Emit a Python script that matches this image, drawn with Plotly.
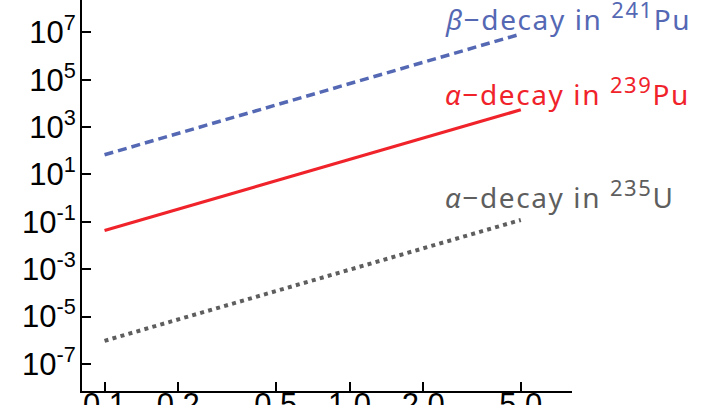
import plotly.graph_objects as go

# Data (log-log, rate vs. x)
x_vals = [0.1, 0.2, 0.5, 1.0, 2.0, 5.0]
beta_pu241 = [68, 540, 8500, 68000, 540000, 8.5e6]
alpha_pu239 = [0.043, 0.34, 5.4, 43, 340, 5400]
alpha_u235 = [9.5e-7, 7.6e-6, 1.2e-4, 9.5e-4, 7.6e-3, 0.12]

y_tickvals = [1e-7, 1e-5, 1e-3, 1e-1, 1e1, 1e3, 1e5, 1e7]
y_ticktext = ["10<sup>-7</sup>", "10<sup>-5</sup>", "10<sup>-3</sup>", "10<sup>-1</sup>",
              "10<sup>1</sup>", "10<sup>3</sup>", "10<sup>5</sup>", "10<sup>7</sup>"]
x_tickvals = [0.1, 0.2, 0.5, 1.0, 2.0, 5.0]
x_ticktext = ["0.1", "0.2", "0.5", "1.0", "2.0", "5.0"]

label_parts = [("β", "241", "Pu"), ("α", "239", "Pu"), ("α", "235", "U")]

BLUE = "#5468b4"
RED = "#f0232b"
GRAY = "#5e5e5e"

fig = go.Figure()
fig.add_trace(go.Scatter(x=x_vals, y=beta_pu241, mode="lines",
                         line=dict(color=BLUE, width=3.5, dash="9px,5px")))
fig.add_trace(go.Scatter(x=x_vals, y=alpha_pu239, mode="lines",
                         line=dict(color=RED, width=3.2)))
fig.add_trace(go.Scatter(x=x_vals, y=alpha_u235, mode="lines",
                         line=dict(color=GRAY, width=4, dash="4px,4.3px")))

L, R, T, B = 82, 148, 0, 14
W, H = 720, 405
pw, ph = W - L - R, H - T - B

def px(xp):
    return (xp - L) / pw

def py(yp):
    return (H - B - yp) / ph

def label(greek, mass, elem):
    sp = "letter-spacing:1.6px"
    return (f"<span style='{sp}'><i>{greek}</i>−decay in </span>"
            f"<sup><span style='font-size:22px;{sp}'>{mass}</span></sup>"
            f"<span style='{sp}'>{elem}</span>")

ann_font = "Noto Sans, sans-serif"
ann_specs = [(label(*label_parts[0]), BLUE, 443, 16),
             (label(*label_parts[1]), RED, 443, 91),
             (label(*label_parts[2]), GRAY, 443, 194)]
for text, col, xp, yp in ann_specs:
    fig.add_annotation(x=px(xp), y=py(yp), xref="paper", yref="paper", text=text,
                       showarrow=False, xanchor="left", yanchor="middle",
                       font=dict(family=ann_font, size=28, color=col))

fig.update_layout(
    width=W, height=H,
    margin=dict(l=L, r=R, t=T, b=B),
    paper_bgcolor="white", plot_bgcolor="white",
    showlegend=False,
    template="none",
)
axis_font = dict(family="Liberation Sans, Arial, sans-serif", size=31, color="black")
fig.update_xaxes(type="log", range=[-1.092, 0.908], tickvals=x_tickvals, ticktext=x_ticktext,
                 ticks="inside", ticklen=9, tickwidth=2, tickcolor="black",
                 showline=True, linecolor="black", linewidth=2, showgrid=False, zeroline=False,
                 automargin=False, tickfont=axis_font, ticklabelstandoff=-15)
fig.update_yaxes(type="log", range=[-8.14, 8.365], tickvals=y_tickvals, ticktext=y_ticktext,
                 ticks="inside", ticklen=9, tickwidth=2, tickcolor="black",
                 showline=True, linecolor="black", linewidth=2, showgrid=False, zeroline=False,
                 automargin=False, tickfont=axis_font, ticklabelstandoff=-2)

fig.write_html("out.html", post_script="document.body.style.margin='0';",
               config={"displayModeBar": False})
